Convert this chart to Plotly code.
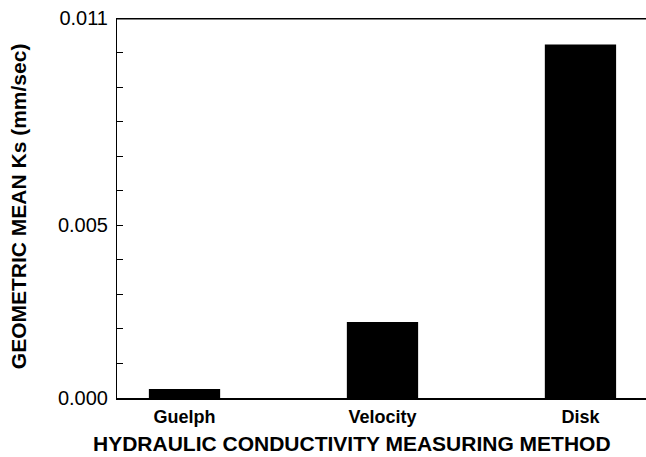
import plotly.graph_objects as go

categories = ["Guelph", "Velocity", "Disk"]
ks_values = [0.00026, 0.0022, 0.01023]
ytick_vals = [0.0, 0.005, 0.011]
ytick_text = ["0.000", "0.005", "0.011"]

FONT = "Liberation Sans, Arial, Helvetica, sans-serif"

fig = go.Figure()
fig.add_trace(go.Bar(
    x=categories, y=ks_values, width=0.36,
    marker=dict(color="black", line=dict(width=0)),
))

fig.update_layout(
    width=646, height=457,
    margin=dict(l=117, r=0, t=18, b=59),
    paper_bgcolor="white", plot_bgcolor="white",
    showlegend=False,
    font=dict(family=FONT, color="black"),
    xaxis=dict(
        range=[-0.341, 2.331],
        showline=True, linecolor="black", linewidth=1.5,
        mirror=False, ticks="", showgrid=False, zeroline=False,
        tickfont=dict(size=18, weight="bold"),
        ticklabelstandoff=2,
    ),
    yaxis=dict(
        range=[0, 0.011],
        showline=True, linecolor="black", linewidth=1,
        ticks="inside", ticklen=6, tickwidth=1, tickcolor="black",
        tickmode="array", tickvals=ytick_vals, ticktext=ytick_text,
        tickfont=dict(size=20),
        showgrid=False, zeroline=False,
        minor=dict(ticks="inside", ticklen=6, tickwidth=1, tickcolor="black",
                   tick0=0, dtick=0.001, showgrid=False),
        ticklabelstandoff=4,
    ),
    shapes=[dict(type="line", xref="paper", yref="y", x0=0, x1=1,
                 y0=0.011, y1=0.011, line=dict(color="black", width=3))],
    annotations=[
        dict(text="HYDRAULIC CONDUCTIVITY MEASURING METHOD", xref="paper", yref="paper",
             x=0.444, y=-0.12, xanchor="center", yanchor="middle", showarrow=False,
             font=dict(size=21, weight="bold")),
        dict(text="GEOMETRIC MEAN Ks (mm/sec)", xref="paper", yref="paper",
             x=-0.187, y=0.505, xanchor="center", yanchor="middle", showarrow=False,
             textangle=-90, font=dict(size=21, weight="bold")),
    ],
)

fig.write_html("out.html", config={"displayModeBar": False},
               post_script="document.body.style.margin='0';")
